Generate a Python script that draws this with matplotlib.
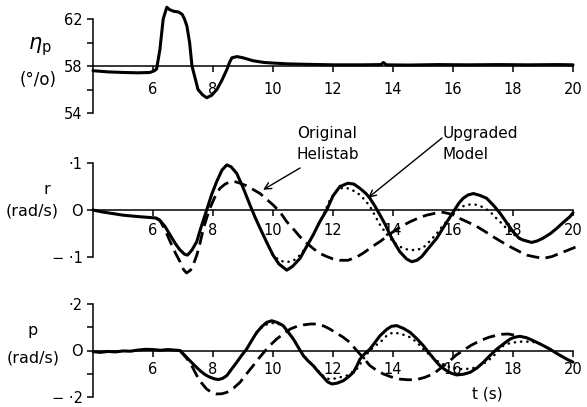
import numpy as np
import matplotlib
matplotlib.use("Agg")
import matplotlib.pyplot as plt
from matplotlib.ticker import FixedLocator

# rotor speed eta_p (%)
t_eta = [4.0, 4.5, 5.0, 5.5, 5.9, 6.05, 6.12, 6.23, 6.34, 6.46, 6.55, 6.7, 6.85, 6.97,
         7.05, 7.13, 7.22, 7.3, 7.4, 7.5, 7.65, 7.79, 7.95, 8.13, 8.3, 8.47, 8.55, 8.63,
         8.8, 9.0, 9.33, 9.7, 10.0, 10.5, 11.0, 12.0, 13.0, 13.6, 13.68, 13.78, 14.5,
         15.5, 16.5, 17.5, 18.5, 19.5, 20.0]
eta = [57.6, 57.5, 57.45, 57.42, 57.45, 57.6, 57.75, 59.4, 62.0, 63.0, 62.8, 62.65, 62.6, 62.4,
       62.0, 61.4, 60.0, 58.0, 57.0, 56.0, 55.55, 55.3, 55.5, 56.0, 56.8, 57.75, 58.3, 58.7,
       58.8, 58.7, 58.45, 58.3, 58.25, 58.18, 58.15, 58.1, 58.1, 58.12, 58.3, 58.1, 58.08,
       58.12, 58.1, 58.12, 58.1, 58.12, 58.1]

# yaw rate r (rad/s): flight test, upgraded model, original Helistab
t_r = [4.0, 4.3, 4.7, 5.0, 5.5, 5.9, 6.1, 6.23, 6.4, 6.57, 6.75, 6.9, 7.05, 7.15, 7.3, 7.46,
       7.6, 7.79, 7.95, 8.12, 8.3, 8.46, 8.6, 8.79, 9.0, 9.23, 9.4, 9.57, 9.8, 10.0, 10.2,
       10.46, 10.65, 10.9, 11.1, 11.34, 11.55, 11.79, 12.0, 12.23, 12.5, 12.7, 12.9, 13.1,
       13.23, 13.4, 13.57, 13.75, 13.9, 14.05, 14.23, 14.45, 14.62, 14.8, 14.96, 15.2, 15.46,
       15.75, 16.0, 16.2, 16.34, 16.5, 16.68, 16.9, 17.12, 17.35, 17.57, 17.8, 18.0, 18.2,
       18.34, 18.62, 18.8, 19.0, 19.25, 19.46, 19.7, 19.9, 20.0]
r_flight = [0.0, -0.004, -0.008, -0.011, -0.014, -0.016, -0.017, -0.022, -0.035, -0.053,
            -0.072, -0.085, -0.094, -0.096, -0.085, -0.067, -0.037, 0.0, 0.032, 0.06, 0.085,
            0.096, 0.092, 0.078, 0.048, 0.011, -0.015, -0.039, -0.07, -0.096, -0.115, -0.128,
            -0.12, -0.103, -0.08, -0.053, -0.026, 0.0, 0.03, 0.05, 0.057, 0.055, 0.046, 0.035,
            0.025, 0.008, -0.011, -0.032, -0.053, -0.07, -0.089, -0.104, -0.11, -0.107, -0.099,
            -0.08, -0.06, -0.03, -0.005, 0.015, 0.025, 0.032, 0.035, 0.031, 0.025, 0.01, -0.007,
            -0.028, -0.046, -0.06, -0.064, -0.069, -0.066, -0.06, -0.05, -0.039, -0.025, -0.014,
            -0.006]

t_r_upg = [9.8, 10.0, 10.23, 10.45, 10.68, 10.9, 11.12, 11.34, 11.57, 11.75, 11.9, 12.1, 12.34,
           12.57, 12.79, 12.9, 13.05, 13.23, 13.4, 13.57, 13.75, 13.9, 14.05, 14.23, 14.4,
           14.57, 14.8, 15.01, 15.2, 15.46, 15.65, 15.79, 15.95, 16.12, 16.3, 16.46, 16.65,
           16.79, 17.0, 17.23, 17.4, 17.57, 17.75, 17.9, 18.05, 18.23, 18.4, 18.62]
r_upg = [-0.07, -0.096, -0.108, -0.111, -0.108, -0.096, -0.078, -0.053, -0.025, 0.0, 0.022,
         0.04, 0.048, 0.045, 0.037, 0.032, 0.022, 0.008, -0.012, -0.032, -0.048, -0.06, -0.07,
         -0.078, -0.083, -0.085, -0.085, -0.08, -0.068, -0.05, -0.034, -0.024, -0.012, -0.003,
         0.007, 0.011, 0.012, 0.011, 0.006, -0.003, -0.015, -0.025, -0.037, -0.045, -0.053,
         -0.06, -0.065, -0.069]

t_r_orig = [6.1, 6.23, 6.4, 6.57, 6.75, 6.9, 7.02, 7.12, 7.25, 7.35, 7.46, 7.57, 7.68, 7.8,
            7.9, 8.05, 8.23, 8.4, 8.57, 8.75, 8.9, 9.1, 9.3, 9.57, 9.8, 10.0, 10.23, 10.46,
            10.7, 10.9, 11.12, 11.34, 11.55, 11.79, 12.0, 12.23, 12.5, 12.79, 13.0, 13.2, 13.4,
            13.57, 13.8, 14.01, 14.3, 14.57, 14.85, 15.12, 15.4, 15.68, 15.95, 16.23, 16.5,
            16.79, 17.05, 17.34, 17.6, 17.9, 18.2, 18.46, 18.75, 19.01, 19.3, 19.57, 19.85, 20.12]
r_orig = [-0.017, -0.022, -0.042, -0.067, -0.092, -0.11, -0.127, -0.134, -0.128, -0.115,
          -0.096, -0.07, -0.039, -0.015, 0.004, 0.026, 0.046, 0.055, 0.06, 0.06, 0.057, 0.052,
          0.045, 0.035, 0.022, 0.011, -0.004, -0.025, -0.042, -0.057, -0.07, -0.082, -0.092,
          -0.099, -0.104, -0.107, -0.107, -0.1, -0.092, -0.083, -0.074, -0.067, -0.056, -0.046,
          -0.034, -0.025, -0.017, -0.011, -0.007, -0.005, -0.009, -0.018, -0.026, -0.035,
          -0.045, -0.057, -0.067, -0.078, -0.088, -0.096, -0.1, -0.103, -0.099, -0.092, -0.085,
          -0.078]

# roll rate p (rad/s)
t_p = [4.0, 4.25, 4.5, 4.75, 5.0, 5.25, 5.5, 5.75, 6.0, 6.25, 6.5, 6.7, 6.9, 7.05, 7.23, 7.4,
       7.57, 7.75, 7.9, 8.05, 8.18, 8.32, 8.46, 8.62, 8.79, 8.95, 9.12, 9.3, 9.46, 9.62, 9.79,
       9.96, 10.15, 10.34, 10.5, 10.68, 10.85, 11.01, 11.17, 11.34, 11.5, 11.68, 11.82, 11.96,
       12.15, 12.34, 12.5, 12.68, 12.8, 12.9, 13.05, 13.23, 13.4, 13.57, 13.8, 13.95, 14.12,
       14.35, 14.57, 14.8, 15.01, 15.23, 15.46, 15.6, 15.79, 15.95, 16.12, 16.35, 16.57, 16.8,
       17.01, 17.23, 17.46, 17.7, 17.9, 18.05, 18.23, 18.45, 18.68, 18.95, 19.23, 19.45, 19.68,
       19.85, 20.0]
p_flight = [-0.005, -0.008, -0.004, -0.006, -0.002, -0.003, 0.002, 0.005, 0.004, 0.001, 0.004,
            0.002, 0.0, -0.02, -0.044, -0.066, -0.087, -0.105, -0.115, -0.122, -0.125, -0.12,
            -0.108, -0.08, -0.051, -0.022, 0.006, 0.045, 0.078, 0.102, 0.121, 0.128, 0.12, 0.107,
            0.08, 0.049, 0.012, -0.022, -0.045, -0.065, -0.09, -0.115, -0.135, -0.144, -0.14,
            -0.13, -0.115, -0.094, -0.065, -0.037, -0.015, 0.006, 0.035, 0.064, 0.092, 0.104,
            0.107, 0.095, 0.078, 0.05, 0.021, -0.015, -0.051, -0.07, -0.087, -0.098, -0.105,
            -0.102, -0.094, -0.075, -0.051, -0.022, 0.006, 0.03, 0.049, 0.057, 0.061, 0.055,
            0.042, 0.025, 0.006, -0.012, -0.029, -0.041, -0.05]

t_p_upg = [9.46, 9.62, 9.79, 9.96, 10.15, 10.34, 10.5, 10.68, 11.01, 11.34, 11.68, 11.85, 11.96,
           12.15, 12.46, 12.79, 12.95, 13.1, 13.23, 13.4, 13.57, 13.8, 14.01, 14.3, 14.57, 14.8,
           15.01, 15.23, 15.46, 15.7, 15.9, 16.12, 16.34, 16.57, 16.79, 17.0, 17.23, 17.46,
           17.68, 17.9, 18.23, 18.5, 18.79, 19.0, 19.23]
p_upg = [0.078, 0.098, 0.112, 0.118, 0.116, 0.104, 0.082, 0.05, -0.02, -0.065, -0.11, -0.122,
         -0.123, -0.118, -0.108, -0.08, -0.05, -0.02, 0.0, 0.02, 0.035, 0.065, 0.078, 0.07,
         0.057, 0.035, 0.006, -0.02, -0.044, -0.062, -0.072, -0.078, -0.08, -0.078, -0.072,
         -0.058, -0.037, -0.01, 0.021, 0.032, 0.038, 0.038, 0.035, 0.022, 0.006]

t_p_orig = [6.9, 7.1, 7.25, 7.46, 7.62, 7.79, 7.95, 8.12, 8.3, 8.46, 8.7, 8.9, 9.12, 9.34, 9.55,
            9.79, 9.95, 10.12, 10.35, 10.57, 10.8, 11.01, 11.25, 11.46, 11.7, 11.9, 12.1, 12.34,
            12.55, 12.79, 13.0, 13.23, 13.45, 13.68, 13.95, 14.23, 14.5, 14.79, 15.05, 15.34,
            15.6, 15.9, 16.1, 16.34, 16.6, 16.9, 17.2, 17.46, 17.65, 17.84, 18.05, 18.2]
p_orig = [0.0, -0.03, -0.055, -0.108, -0.14, -0.166, -0.18, -0.187, -0.186, -0.18, -0.16,
          -0.137, -0.1, -0.065, -0.03, 0.006, 0.028, 0.049, 0.072, 0.092, 0.104, 0.11, 0.114,
          0.114, 0.105, 0.092, 0.076, 0.057, 0.036, 0.0, -0.03, -0.065, -0.085, -0.101, -0.114,
          -0.123, -0.126, -0.125, -0.116, -0.101, -0.075, -0.044, -0.02, 0.0, 0.022, 0.042,
          0.057, 0.066, 0.07, 0.071, 0.066, 0.061]

x_ticks = [6, 8, 10, 12, 14, 16, 18, 20]

W, H = 587, 407
fig = plt.figure(figsize=(W / 100, H / 100), dpi=100)
plt.rcParams['font.family'] = ['DejaVu Sans']

def panel(ytop, ybot):
    ax = fig.add_axes([93 / W, 1 - ybot / H, 480 / W, (ybot - ytop) / H])
    ax.patch.set_alpha(0)
    for s in ['top', 'right']:
        ax.spines[s].set_visible(False)
    ax.spines['left'].set_linewidth(1.1)
    ax.spines['bottom'].set_linewidth(1.1)
    ax.set_xlim(4, 20)
    ax.xaxis.set_major_locator(FixedLocator(x_ticks))
    ax.set_xticklabels([str(v) for v in x_ticks])
    ax.tick_params(axis='both', which='both', direction='out', width=1.1, labelsize=10.5,
                   color='black')
    ax.tick_params(axis='x', length=4.5)
    ax.tick_params(axis='y', length=4.5, pad=3)
    ax.tick_params(axis='y', which='minor', length=4)
    return ax

solid = dict(color='black', lw=2.2, solid_joinstyle='round', solid_capstyle='round', clip_on=False)
dashed = dict(color='black', lw=2.0, dashes=(4.6, 2.3), clip_on=False)
dotted = dict(color='black', lw=1.8, dashes=(0.1, 2.4), dash_capstyle='round', clip_on=False)

# top: rotor speed
ax1 = panel(19, 113)
ax1.set_ylim(54, 62)
ax1.spines['bottom'].set_position(('data', 58))
ax1.set_yticks([54, 58, 62])
ax1.set_yticks([56, 60], minor=True)
ax1.tick_params(axis='x', pad=7)
ax1.plot(t_eta, eta, **solid)

# middle: yaw rate
ax2 = panel(163, 257)
ax2.set_ylim(-0.1, 0.1)
ax2.spines['bottom'].set_position(('data', 0))
ax2.set_yticks([-0.1, 0, 0.1])
ax2.set_yticklabels(['\u2212 \u00b71', 'O', '\u00b71'])
ax2.tick_params(axis='x', pad=5)
ax2.plot(t_r_orig, r_orig, **dashed)
ax2.plot(t_r, r_flight, **solid)
ax2.plot(t_r_upg, r_upg, **dotted)

# bottom: roll rate
ax3 = panel(304, 397)
ax3.set_ylim(-0.2, 0.2)
ax3.spines['bottom'].set_position(('data', 0))
ax3.set_yticks([-0.2, 0, 0.2])
ax3.set_yticks([-0.1, 0.1], minor=True)
ax3.set_yticklabels(['\u2212 \u00b72', 'O', '\u00b72'])
ax3.tick_params(axis='x', pad=4)
ax3.plot(t_p_orig, p_orig, **dashed)
ax3.plot(t_p, p_flight, **solid)
ax3.plot(t_p_upg, p_upg, **dotted)

def ftext(x, y, s, **kw):
    fig.text(x / W, 1 - y / H, s, **kw)

ftext(40, 47, r'$\eta_{\rm p}$', fontsize=15, ha='center', va='center')
ftext(38, 80, '(\u00b0/o)', fontsize=12, ha='center', va='center')
ftext(47, 189, 'r', fontsize=11.5, ha='center', va='center')
ftext(32, 211, '(rad/s)', fontsize=11.5, ha='center', va='center')
ftext(33, 330, 'p', fontsize=11.5, ha='center', va='center')
ftext(33, 358, '(rad/s)', fontsize=11.5, ha='center', va='center')
ftext(487, 394, 't (s)', fontsize=11, ha='center', va='center')

ftext(297, 144, 'Original\nHelistab', fontsize=11, ha='left', va='center', linespacing=1.45)
ftext(443, 144, 'Upgraded\nModel', fontsize=11, ha='left', va='center', linespacing=1.45)

arrow = dict(arrowstyle='->', lw=1.0, color='black', shrinkA=0, shrinkB=0,
             mutation_scale=12)
ax2.annotate('', xy=(9.67, 0.043), xytext=(300, H - 168), textcoords='figure pixels',
             arrowprops=arrow)
ax2.annotate('', xy=(13.17, 0.026), xytext=(442, H - 138), textcoords='figure pixels',
             arrowprops=arrow)

fig.savefig('out.png', dpi=100)
